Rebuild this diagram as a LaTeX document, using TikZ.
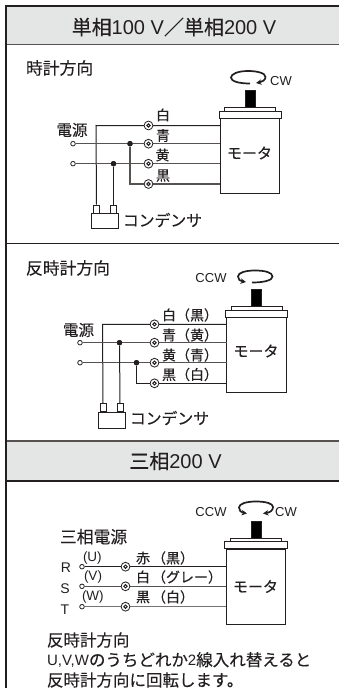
\documentclass[tikz,border=0pt]{standalone}
\usepackage{fontspec}
\setmainfont{Liberation Sans}
\newfontfamily\jpf[FakeBold=0.25]{Noto Sans CJK JP}
\usetikzlibrary{arrows.meta}
\definecolor{hdr}{HTML}{E4E5E5}
\definecolor{ink}{HTML}{231F20}
\definecolor{wiregray}{HTML}{55524F}
\newcommand{\jp}[2]{{\fontsize{#1}{#1}\selectfont\jpf #2}}
\newcommand{\la}[2]{{\fontsize{#1}{#1}\selectfont #2}}
\tikzset{
  txt/.style={inner sep=0pt,outer sep=0pt,text=ink,anchor=west},
  ctxt/.style={inner sep=0pt,outer sep=0pt,text=ink},
  wire/.style={draw=ink,line width=1.0pt},
  gwire/.style={draw=wiregray,line width=1.1pt},
  term/.style={circle,draw=ink,fill=white,line width=0.8pt,minimum size=8.8pt,inner sep=0pt,
    path picture={\draw[ink,line width=1.0pt] (path picture bounding box.center) circle (1.7pt);}},
  src/.style={circle,draw=ink,fill=white,line width=0.8pt,minimum size=4.6pt,inner sep=0pt},
  dot/.style={circle,fill=ink,minimum size=5.4pt,inner sep=0pt},
  box/.style={draw=ink,line width=1.0pt,fill=white},
  rot/.style={draw=ink,line width=1.7pt},
  frame/.style={draw=ink,line width=1.1pt},
}
\begin{document}
\begin{tikzpicture}[x=1pt,y=-1pt]
\useasboundingbox (0,0) rectangle (339,688);
% headers
\fill[hdr] (6,6) rectangle (339,44.5);
\fill[hdr] (6,441) rectangle (339,481);
\draw[frame,draw=wiregray,line width=1.3pt] (6,44.5) -- (339,44.5);
\draw[frame] (6,243.5) -- (339,243.5);
\draw[frame,draw=wiregray,line width=1.3pt] (6,441) -- (339,441);
\draw[frame] (6,481) -- (339,481);
\draw[ink,line width=2.2pt] (339,6) -- (6,6) -- (6,688);
\node[ctxt] (h1) at (174,27) {\jp{20}{単相}\la{20}{100 V}\jp{20}{／単相}\la{20}{200 V}};
\node[ctxt] (h2) at (175.5,461) {\jp{20}{三相}\la{20}{200 V}};

% ---------- section 1
\node[txt] (t1) at (26,68) {\jp{16.8}{時計方向}};
\draw[ink,fill=black] (245,90) rectangle (255,108);
\node[box,minimum width=51pt,minimum height=4pt,inner sep=0pt] (c1) at (249.5,109) {};
\node[box,minimum width=62pt,minimum height=7pt,inner sep=0pt] (f1) at (250,115) {};
\node[box,minimum width=59.5pt,minimum height=75pt,inner sep=0pt] (m1) at (249.75,156) {};
\node[ctxt] at (249.5,153) {\jp{15}{モータ}};
\draw[rot,{Stealth[length=5.5pt,width=5.5pt]}-] (256,83) .. controls (262,82) and (265.5,80) .. (265.5,77) .. controls (265.5,73) and (257,71) .. (248,71) .. controls (238,71) and (231,74) .. (231,77.5) .. controls (231,81) and (238,83.5) .. (250,83.5);
\node[ctxt] at (281,81) {\la{13}{CW}};

\coordinate (a1) at (96,125.5);
\node[src] (s1a) at (73,143.7) {};
\node[src] (s1b) at (73,163.7) {};
\node[dot] (j1a) at (130,143.7) {};
\node[dot] (j1b) at (113.5,163.7) {};
\coordinate (b1) at (130,184);
\node[box,minimum width=6pt,minimum height=8pt,inner sep=0pt] (p1a) at (96.5,209) {};
\node[box,minimum width=6pt,minimum height=8pt,inner sep=0pt] (p1b) at (113.5,209) {};
\node[box,minimum width=27pt,minimum height=15pt,inner sep=0pt] (k1) at (105,221) {};
\draw[wire] (p1a.north) -- (a1) -- (220,125.5);
\draw[gwire] (s1a) -- (220,143.7);
\draw[gwire] (s1b) -- (220,163.7);
\draw[gwire] (j1a) -- (b1) -- (220,184);
\draw[wire] (j1b) -- (p1b.north);
\node[dot] at (j1a) {};
\node[dot] at (j1b) {};
\node[term] (w1a) at (148.5,125.5) {};
\node[term] (w1b) at (148.5,143.7) {};
\node[term] (w1c) at (148.5,163.7) {};
\node[term] (w1d) at (148.5,184) {};
\node[ctxt] at (163,115) {\jp{14}{白}};
\node[ctxt] at (163,135.5) {\jp{14}{青}};
\node[ctxt] at (162.5,155) {\jp{14}{黄}};
\node[ctxt] at (163,175.5) {\jp{14}{黒}};
\node[ctxt] at (72,130) {\jp{15.5}{電源}};
\node[txt] at (123,220) {\jp{15.8}{コンデンサ}};

% ---------- section 2
\node[txt] (t2) at (26,268) {\jp{16.8}{反時計方向}};
\draw[ink,fill=black] (251,289) rectangle (261,307);
\node[box,minimum width=51pt,minimum height=4pt,inner sep=0pt] (c2) at (256.5,308) {};
\node[box,minimum width=62pt,minimum height=7pt,inner sep=0pt] (f2) at (256.5,314) {};
\node[box,minimum width=59.5pt,minimum height=75pt,inner sep=0pt] (m2) at (256.25,355) {};
\node[ctxt] at (256,351) {\jp{15}{モータ}};
\draw[rot,{Stealth[length=5.5pt,width=5.5pt]}-] (246,282) .. controls (240,281) and (238,279.5) .. (238,276.5) .. controls (238,272.5) and (246,270.5) .. (255,270.5) .. controls (265,270.5) and (272.5,272.5) .. (272.5,276.5) .. controls (272.5,280) and (265,282.5) .. (252,282.5);
\node[ctxt] at (211,277.7) {\la{13}{CCW}};

\coordinate (a2) at (102.5,324.3);
\node[src] (s2a) at (80,342.7) {};
\node[src] (s2b) at (80,362.7) {};
\node[dot] (j2a) at (119.5,342.7) {};
\node[dot] (j2b) at (136.5,362.7) {};
\coordinate (b2) at (136.5,383.3);
\node[box,minimum width=6pt,minimum height=8pt,inner sep=0pt] (p2a) at (103,407.5) {};
\node[box,minimum width=6pt,minimum height=8pt,inner sep=0pt] (p2b) at (120,407.5) {};
\node[box,minimum width=27pt,minimum height=16pt,inner sep=0pt] (k2) at (111.5,420) {};
\draw[wire] (p2a.north) -- (a2) -- (226.5,324.3);
\draw[gwire] (s2a) -- (226.5,342.7);
\draw[gwire] (s2b) -- (226.5,362.7);
\draw[wire] (j2b) -- (b2) -- (226.5,383.3);
\draw[wire] (j2a) -- (p2b.north);
\node[dot] at (j2a) {};
\node[dot] at (j2b) {};
\node[term] (w2a) at (154.5,324.3) {};
\node[term] (w2b) at (154.5,342.7) {};
\node[term] (w2c) at (154.5,362.7) {};
\node[term] (w2d) at (154.5,383.3) {};
\node[txt] at (162,315) {\jp{14}{白（黒）}};
\node[txt] at (162,335) {\jp{14}{青（黄）}};
\node[txt] at (162,355) {\jp{14}{黄（青）}};
\node[txt] at (162,374.5) {\jp{14}{黒（白）}};
\node[ctxt] at (78.5,330) {\jp{15.5}{電源}};
\node[txt] at (130,418) {\jp{15.8}{コンデンサ}};

% ---------- section 3
\draw[ink,fill=black] (251,521) rectangle (261,540);
\node[box,minimum width=51pt,minimum height=4pt,inner sep=0pt] (c3) at (256,540) {};
\node[box,minimum width=63pt,minimum height=7pt,inner sep=0pt] (f3) at (255.5,545) {};
\node[box,minimum width=59.5pt,minimum height=75pt,inner sep=0pt] (m3) at (255.75,586.5) {};
\node[ctxt] at (255.5,586.5) {\jp{15}{モータ}};
\draw[rot,{Stealth[length=5.5pt,width=5.5pt]}-{Stealth[length=5.5pt,width=5.5pt]}] (247,513.5) .. controls (241,512.5) and (239,510.5) .. (239,507.5) .. controls (239,503.5) and (247,501.5) .. (256,501.5) .. controls (266,501.5) and (273,503.5) .. (273,507) .. controls (273,510.5) and (270,512.5) .. (263,513.5);
\node[ctxt] at (211,512) {\la{13}{CCW}};
\node[ctxt] at (286,512) {\la{13}{CW}};
\node[src] (s3a) at (82,566.7) {};
\node[src] (s3b) at (82,586.3) {};
\node[src] (s3c) at (82,606.7) {};
\draw[wire] (s3a) -- (226,566.7);
\draw[gwire] (s3b) -- (226,586.3);
\draw[gwire,draw=wiregray!80] (s3c) -- (226,606.7);
\node[term] (w3a) at (125.5,566.7) {};
\node[term] (w3b) at (125.5,586.3) {};
\node[term] (w3c) at (125.5,606.7) {};
\node[txt] at (60,536.7) {\jp{16.8}{三相電源}};
\node[ctxt] at (66,568) {\la{14}{R}};
\node[ctxt] at (65,589) {\la{14}{S}};
\node[ctxt] at (65,610) {\la{14}{T}};
\node[txt] at (83,558) {\la{13.5}{(U)}};
\node[txt] at (84,577) {\la{13.5}{(V)}};
\node[txt] at (82,597) {\la{13.5}{(W)}};
\node[txt] at (136,558) {\jp{14}{赤}};
\node[txt] at (136,577) {\jp{14}{白}};
\node[txt] at (136,597) {\jp{14}{黒}};
\node[txt] at (152,558) {\jp{14}{（黒）}};
\node[txt] at (152,577) {\jp{14}{（グレー）}};
\node[txt] at (152,597) {\jp{14}{（白）}};
\node[txt] at (47,640) {\jp{16.5}{反時計方向}};
\node[txt] at (47,660) {\la{15}{U,V,W}\jp{16.5}{のうちどれか}\la{15}{2}\jp{16.5}{線入れ替えると}};
\node[txt] at (47,680) {\jp{16.5}{反時計方向に回転します。}};
\end{tikzpicture}
\end{document}
